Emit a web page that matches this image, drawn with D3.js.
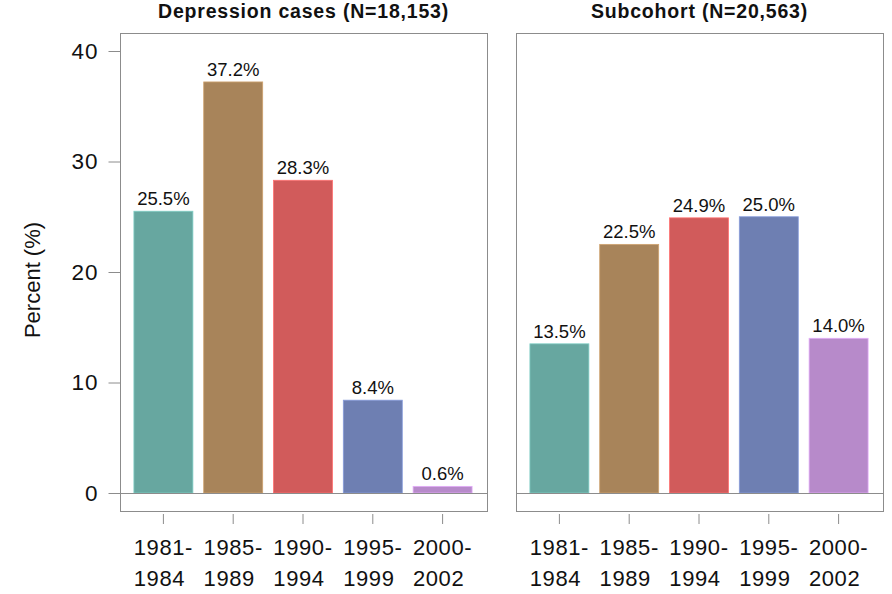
<!DOCTYPE html>
<html>
<head>
<meta charset="utf-8">
<script src="https://cdn.jsdelivr.net/npm/d3@7"></script>
<style>
  body { margin: 0; background: #fff; }
  text { font-family: "Liberation Sans", Arial, sans-serif; fill: #111; }
</style>
</head>
<body>
<div id="chart"></div>
<script>
// periods (two-line tick labels)
var periods = ["1981-1984", "1985-1989", "1990-1994", "1995-1999", "2000-2002"];
var periodTop = ["1981-", "1985-", "1990-", "1995-", "2000-"];
var periodBottom = ["1984", "1989", "1994", "1999", "2002"];

var casesValues = [25.5, 37.2, 28.3, 8.4, 0.6];
var subcohortValues = [13.5, 22.5, 24.9, 25.0, 14.0];

var panelTitles = ["Depression cases (N=18,153)", "Subcohort (N=20,563)"];
var yTicks = [0, 10, 20, 30, 40];
var barColors = ["#67a7a0", "#a8845a", "#d15b5b", "#6e7fb2", "#b78aca"];

var W = 892, H = 594;

var svg = d3.select("#chart")
  .append("svg")
    .attr("width", W)
    .attr("height", H);

// shared y scale
var y = d3.scaleLinear()
  .domain([0, 40])
  .range([493, 51]);

var boxTop = 33, boxBottom = 511;

function drawPanel(values, title, left, right, showY) {
  var g = svg.append("g");

  var x = d3.scaleBand()
    .domain(periods)
    .range([left + 8.5, right - 9.5])
    .paddingInner(0.155)
    .paddingOuter(0.0775);

  // frame
  g.append("rect")
    .attr("x", left + 0.5)
    .attr("y", boxTop + 0.5)
    .attr("width", right - left)
    .attr("height", boxBottom - boxTop)
    .attr("fill", "none")
    .attr("stroke", "#8c8c8c")
    .attr("stroke-width", 1);

  // title
  g.append("text")
    .attr("x", (left + right) / 2)
    .attr("y", 17.5)
    .attr("text-anchor", "middle")
    .style("font-size", "19.5px")
    .style("font-weight", "bold")
    .style("letter-spacing", "0.8px")
    .text(title);

  // bars
  g.selectAll(".bar")
    .data(values)
    .enter()
    .append("rect")
      .attr("x", function(d, i) { return x(periods[i]); })
      .attr("y", function(d) { return y(d); })
      .attr("width", x.bandwidth())
      .attr("height", function(d) { return y(0) - y(d); })
      .attr("fill", function(d, i) { return barColors[i]; })
      .attr("stroke", function(d, i) { return d3.color(barColors[i]).brighter(0.6); })
      .attr("stroke-width", 0.8);

  // value labels
  g.selectAll(".lbl")
    .data(values)
    .enter()
    .append("text")
      .attr("x", function(d, i) { return x(periods[i]) + x.bandwidth() / 2; })
      .attr("y", function(d) { return y(d) - 6; })
      .attr("text-anchor", "middle")
      .style("font-size", "18.5px")
      .text(function(d) { return d.toFixed(1) + "%"; });

  // zero line
  g.append("line")
    .attr("x1", left)
    .attr("x2", right + 1)
    .attr("y1", Math.round(y(0)) + 0.5)
    .attr("y2", Math.round(y(0)) + 0.5)
    .attr("stroke", "#8c8c8c")
    .attr("stroke-width", 1);

  // x axis ticks and labels
  var xAxis = g.append("g")
    .attr("transform", "translate(0," + (boxBottom + 3) + ")")
    .call(d3.axisBottom(x).tickSize(10).tickSizeOuter(0).tickFormat(""));
  xAxis.select(".domain").remove();
  xAxis.selectAll("line").attr("stroke", "#8c8c8c");

  // first line centred on the tick, second line left-aligned with it
  var starts = [];
  g.selectAll(".xl1")
    .data(periodTop)
    .enter()
    .append("text")
      .attr("x", function(d, i) { return x(periods[i]) + x.bandwidth() / 2; })
      .attr("y", 555)
      .attr("text-anchor", "middle")
      .style("font-size", "22px")
      .style("letter-spacing", "0.6px")
      .text(function(d) { return d; })
      .each(function(d, i) { starts[i] = this.getBBox().x; });

  g.selectAll(".xl2")
    .data(periodBottom)
    .enter()
    .append("text")
      .attr("x", function(d, i) { return starts[i]; })
      .attr("y", 586)
      .attr("text-anchor", "start")
      .style("font-size", "22px")
      .style("letter-spacing", "0.6px")
      .text(function(d) { return d; });

  if (showY) {
    var yAxis = g.append("g")
      .attr("transform", "translate(" + (left + 0.5) + ",0)")
      .call(d3.axisLeft(y).tickValues(yTicks).tickSize(12).tickPadding(10).tickSizeOuter(0));
    yAxis.select(".domain").remove();
    yAxis.selectAll("line").attr("stroke", "#8c8c8c");
    yAxis.selectAll("text")
      .style("font-size", "22.5px")
      .style("letter-spacing", "1px")
      .style("font-family", "'Liberation Sans', Arial, sans-serif")
      .attr("fill", "#111");

    svg.append("text")
      .attr("transform", "translate(40," + 280 + ")rotate(-90)")
      .attr("text-anchor", "middle")
      .style("font-size", "22px")
      .text("Percent (%)");
  }
}

drawPanel(casesValues, panelTitles[0], 120, 487, true);
drawPanel(subcohortValues, panelTitles[1], 516, 883, false);
</script>
</body>
</html>
